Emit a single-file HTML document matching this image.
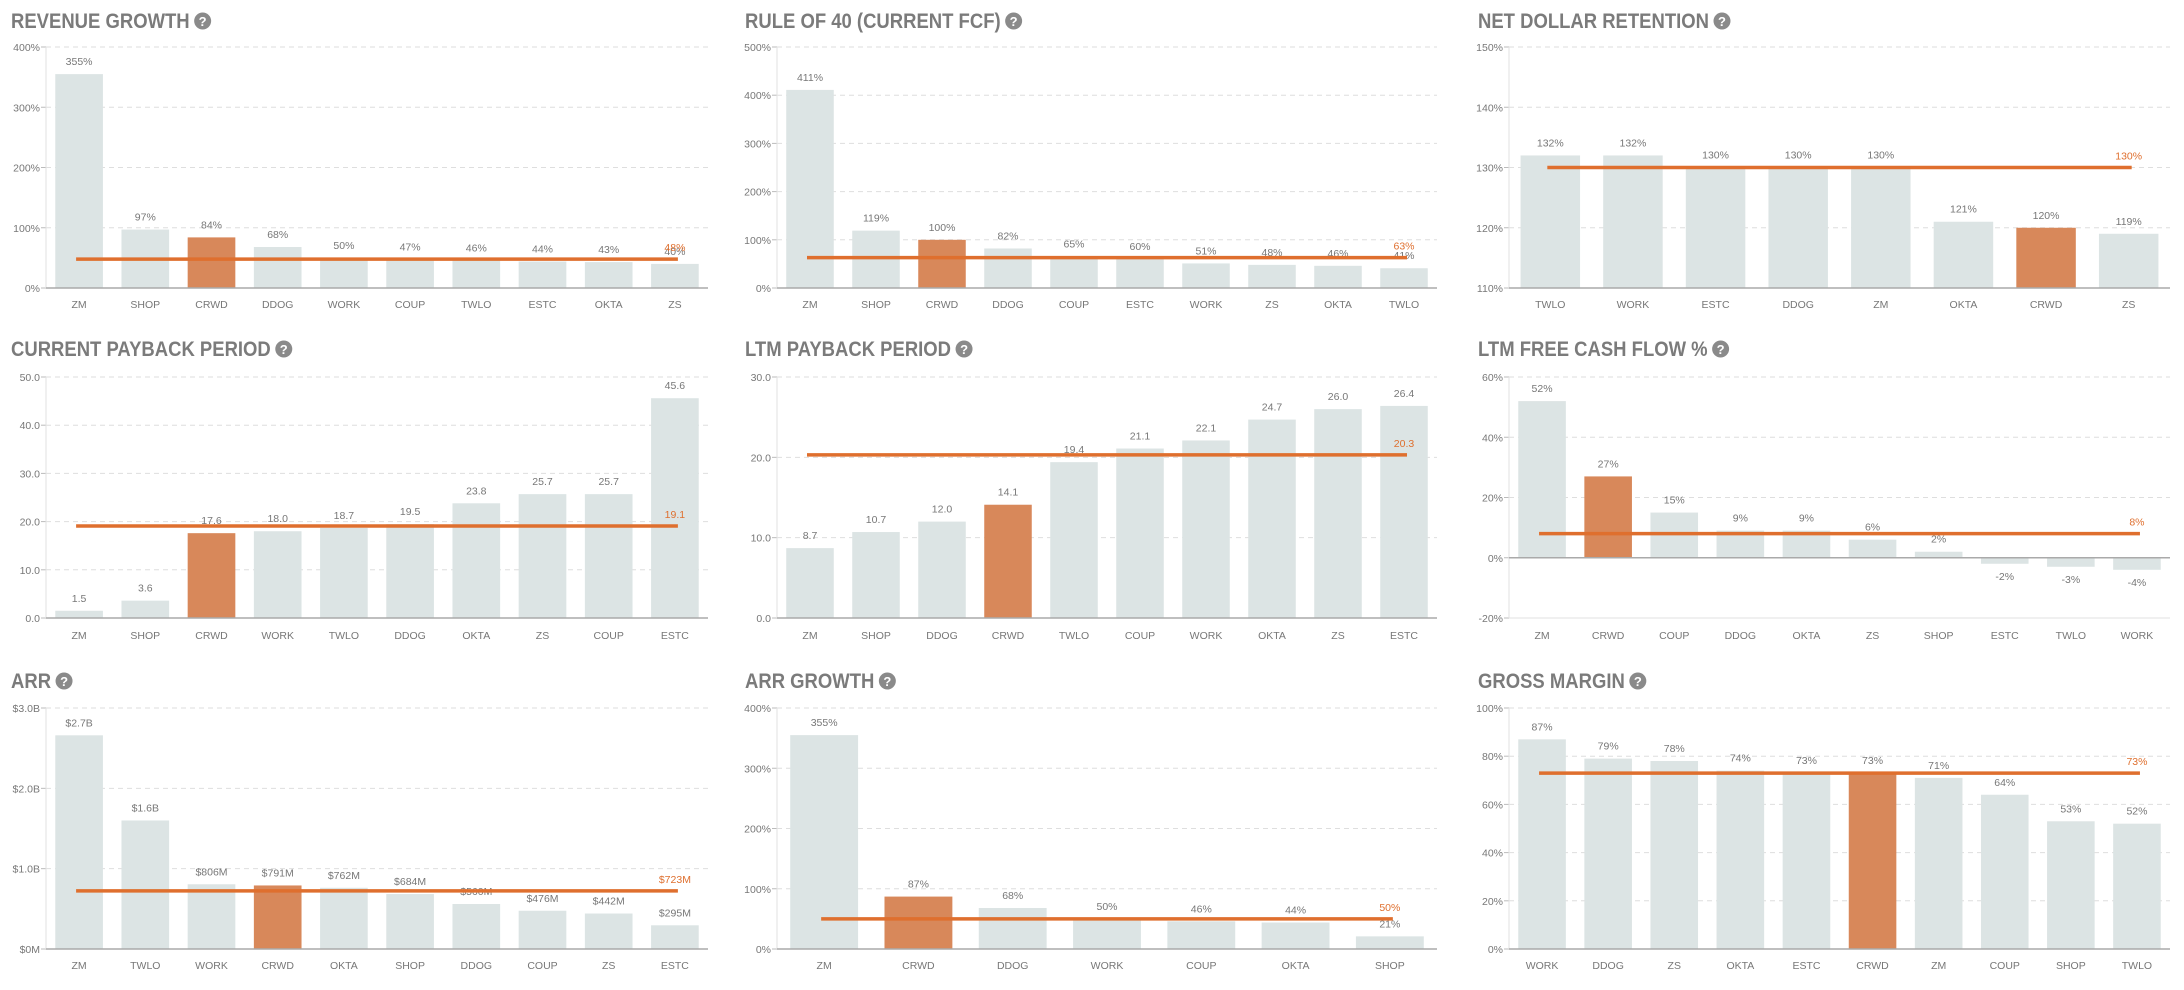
<!DOCTYPE html>
<html><head><meta charset="utf-8"><style>
html,body{margin:0;padding:0;background:#fff;}
svg{display:block;font-family:"Liberation Sans",sans-serif;}
</style></head><body>
<svg id="chart" width="2184" height="990" viewBox="0 0 2184 990" xmlns="http://www.w3.org/2000/svg"></svg>
<script>
const rgCats=["ZM","SHOP","CRWD","DDOG","WORK","COUP","TWLO","ESTC","OKTA","ZS"];
const rgVals=[355,97,84,68,50,47,46,44,43,40];
const rgAvg=48;
const rgTicks=[0,100,200,300,400];

const r40Cats=["ZM","SHOP","CRWD","DDOG","COUP","ESTC","WORK","ZS","OKTA","TWLO"];
const r40Vals=[411,119,100,82,65,60,51,48,46,41];
const r40Avg=63;
const r40Ticks=[0,100,200,300,400,500];

const ndrCats=["TWLO","WORK","ESTC","DDOG","ZM","OKTA","CRWD","ZS"];
const ndrVals=[132,132,130,130,130,121,120,119];
const ndrAvg=130;
const ndrTicks=[110,120,130,140,150];

const cpCats=["ZM","SHOP","CRWD","WORK","TWLO","DDOG","OKTA","ZS","COUP","ESTC"];
const cpVals=[1.5,3.6,17.6,18.0,18.7,19.5,23.8,25.7,25.7,45.6];
const cpAvg=19.1;
const cpTicks=[0,10,20,30,40,50];

const lpCats=["ZM","SHOP","DDOG","CRWD","TWLO","COUP","WORK","OKTA","ZS","ESTC"];
const lpVals=[8.7,10.7,12.0,14.1,19.4,21.1,22.1,24.7,26.0,26.4];
const lpAvg=20.3;
const lpTicks=[0,10,20,30];

const fcfCats=["ZM","CRWD","COUP","DDOG","OKTA","ZS","SHOP","ESTC","TWLO","WORK"];
const fcfVals=[52,27,15,9,9,6,2,-2,-3,-4];
const fcfAvg=8;
const fcfTicks=[-20,0,20,40,60];

const arrCats=["ZM","TWLO","WORK","CRWD","OKTA","SHOP","DDOG","COUP","ZS","ESTC"];
const arrVals=[2660,1600,806,791,762,684,560,476,442,295];
const arrAvg=723;
const arrTicks=[0,1000,2000,3000];

const agCats=["ZM","CRWD","DDOG","WORK","COUP","OKTA","SHOP"];
const agVals=[355,87,68,50,46,44,21];
const agAvg=50;
const agTicks=[0,100,200,300,400];

const gmCats=["WORK","DDOG","ZS","OKTA","ESTC","CRWD","ZM","COUP","SHOP","TWLO"];
const gmVals=[87,79,78,74,73,73,71,64,53,52];
const gmAvg=73;
const gmTicks=[0,20,40,60,80,100];

const NS="http://www.w3.org/2000/svg";
const svg=document.getElementById("chart");
function mk(tag,attrs,parent){const e=document.createElementNS(NS,tag);for(const k in attrs)e.setAttribute(k,attrs[k]);(parent||svg).appendChild(e);return e;}
const pct=v=>v+"%";
const dec=v=>v.toFixed(1);
const money=v=>v===0?"$0M":(v>=1000?"$"+(v/1000).toFixed(1)+"B":"$"+v+"M");

const cols=[{ax:46,right:708,tx:11},{ax:777,right:1437,tx:745},{ax:1509,right:2170,tx:1478}];
const rows=[{ty:20,top:47,bot:288,xl:304},{ty:348,top:377,bot:618,xl:635},{ty:680,top:708,bot:949,xl:965}];

function panel(slug,title,col,row,cats,vals,avg,ticks,fmt,tfmt){
  const c=cols[col],r=rows[row];
  const g=mk("g",{});
  
  
  const t=mk("text",{x:c.tx,y:r.ty+8,"font-size":21,"font-weight":"bold",fill:"#7b7b7b",textLength:0},g);
  t.removeAttribute("textLength");
  t.textContent=title;
  
  
  const tw0=t.getComputedTextLength();
  const tw=tw0*0.88;
  t.setAttribute("textLength",tw);
  t.setAttribute("lengthAdjust","spacingAndGlyphs");
  const ic=mk("g",{},g);
  
  
  mk("circle",{cx:c.tx+tw+13,cy:r.ty+1,r:8.5,fill:"#8a8a8a"},ic);
  const q=mk("text",{x:c.tx+tw+13,y:r.ty+6,"font-size":13,"font-weight":"bold",fill:"#fff","text-anchor":"middle"},ic);
  q.textContent="?";
  const tmin=ticks[0],tmax=ticks[ticks.length-1];
  const y=v=>r.bot-(v-tmin)/(tmax-tmin)*(r.bot-r.top);
  const band=(c.right-c.ax)/cats.length;
  const x=i=>c.ax+band*(i+0.5);
  const bw=band*0.72;
  ticks.forEach(tv=>{
    const yy=y(tv);
    if(tv!==tmin){
      const gl=mk("line",{x1:c.ax,x2:c.right,y1:yy,y2:yy,stroke:"#dedede","stroke-width":1,"stroke-dasharray":"5,4"},g);
      
      
    }
    mk("line",{x1:c.ax-5,x2:c.ax,y1:yy,y2:yy,stroke:"#bbb"},g);
    const tl=mk("text",{x:c.ax-6,y:yy+4,"font-size":10.5,fill:"#777","text-anchor":"end"},g);
    tl.textContent=tfmt(tv);
    
    
  });
  mk("line",{x1:c.ax,x2:c.ax,y1:r.top,y2:r.bot,stroke:"#e2e2e2"},g);
  const base=Math.max(tmin,0);
  cats.forEach((cat,i)=>{
    const v=vals[i];
    const y0=y(base),y1=y(v);
    const hi=cat==="CRWD";
    const b=mk("rect",{x:x(i)-bw/2,y:Math.min(y0,y1),width:bw,height:Math.abs(y0-y1),fill:hi?"#d8885a":"#dce4e4"},g);
    
    
    const vl=mk("text",{x:x(i),y:v>=base?y1-9:y1+16,"font-size":10.5,fill:"#777","text-anchor":"middle"},g);
    vl.textContent=fmt(v);
    
    
    const xl=mk("text",{x:x(i),y:r.xl+4,"font-size":10.5,fill:"#777","text-anchor":"middle"},g);
    xl.textContent=cat;
    
    
  });
  const bl=mk("line",{x1:c.ax,x2:c.right,y1:y(base),y2:y(base),stroke:"#aaa","stroke-width":1.5},g);
  
  
  if(tmin<0){mk("line",{x1:c.ax,x2:c.right,y1:y(tmin),y2:y(tmin),stroke:"#e2e2e2"},g);}
  const ay=y(avg);
  const al=mk("line",{x1:x(0)-3,x2:x(cats.length-1)+3,y1:ay,y2:ay,stroke:"#df6f2e","stroke-width":3.5},g);
  
  
  const at=mk("text",{x:x(cats.length-1),y:ay-8,"font-size":10.5,fill:"#df6f2e","text-anchor":"middle"},g);
  at.textContent=fmt(avg);
  
  
}
panel("revenue-growth","REVENUE GROWTH",0,0,rgCats,rgVals,rgAvg,rgTicks,pct,pct);
panel("rule-of-40","RULE OF 40 (CURRENT FCF)",1,0,r40Cats,r40Vals,r40Avg,r40Ticks,pct,pct);
panel("net-dollar-retention","NET DOLLAR RETENTION",2,0,ndrCats,ndrVals,ndrAvg,ndrTicks,pct,pct);
panel("current-payback","CURRENT PAYBACK PERIOD",0,1,cpCats,cpVals,cpAvg,cpTicks,dec,dec);
panel("ltm-payback","LTM PAYBACK PERIOD",1,1,lpCats,lpVals,lpAvg,lpTicks,dec,dec);
panel("ltm-fcf","LTM FREE CASH FLOW %",2,1,fcfCats,fcfVals,fcfAvg,fcfTicks,pct,pct);
panel("arr","ARR",0,2,arrCats,arrVals,arrAvg,arrTicks,money,money);
panel("arr-growth","ARR GROWTH",1,2,agCats,agVals,agAvg,agTicks,pct,pct);
panel("gross-margin","GROSS MARGIN",2,2,gmCats,gmVals,gmAvg,gmTicks,pct,pct);
</script>
</body></html>
